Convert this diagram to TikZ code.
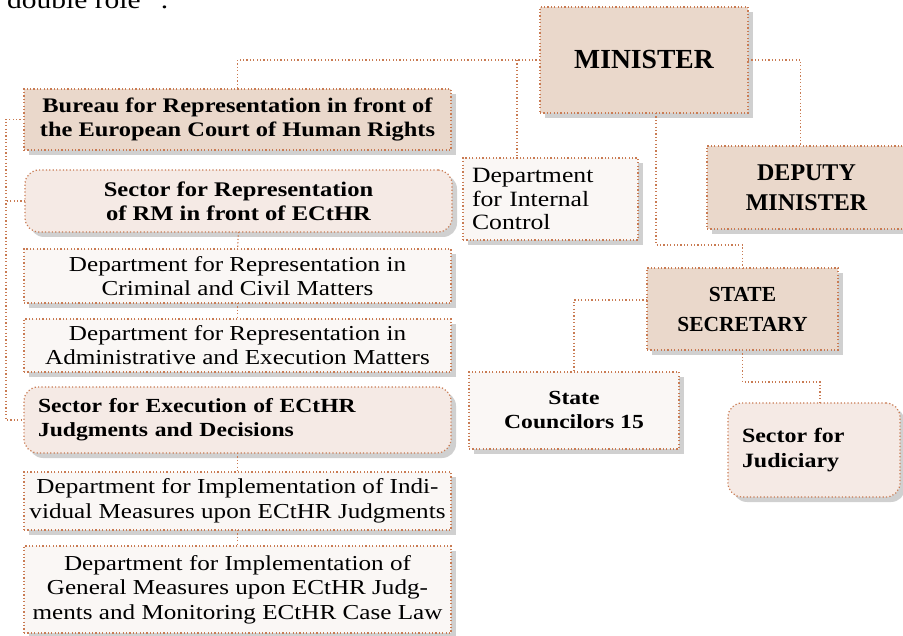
\documentclass[tikz,border=0pt]{standalone}
\usepackage{fontspec}
\setmainfont[FakeStretch=1.18]{Liberation Serif}
\newfontfamily\capsfont{Liberation Serif}
\usetikzlibrary{shadows}

\definecolor{linebrown}{HTML}{C97B53}
\definecolor{filldark}{HTML}{EAD8CB}
\definecolor{filllight}{HTML}{F5EAE5}
\definecolor{fillpale}{HTML}{FAF7F5}
\definecolor{shadowgray}{HTML}{D0D0D0}

\tikzset{
  orgbox/.style={draw=linebrown, line width=1.2pt, dash pattern=on 1.2pt off 2.2pt,
    rectangle, inner sep=0pt, outer sep=0pt, align=center,
    drop shadow={shadow xshift=5pt, shadow yshift=-5pt, fill=shadowgray, opacity=1}},
  darkbox/.style={orgbox, fill=filldark},
  palebox/.style={orgbox, fill=fillpale},
  roundbox/.style={orgbox, fill=filllight, rounded corners=14pt},
  conn/.style={draw=linebrown, line width=1.2pt, dash pattern=on 1.2pt off 2.2pt}
}

\begin{document}
\begin{tikzpicture}[x=1pt, y=-1pt]
\useasboundingbox (0,0) rectangle (903,636);

% text of the page above the chart
\node[anchor=base west, inner sep=0pt, font=\fontsize{25}{30}\selectfont] (pagetext) at (7,9) {double role”\hspace{7pt}.};

% top level
\node[darkbox, minimum width=208pt, minimum height=106pt,
  font=\capsfont\fontsize{27.6}{32}\selectfont\bfseries] (min) at (644,60) {MINISTER};
\node[darkbox, minimum width=199pt, minimum height=83pt,
  font=\capsfont\fontsize{24}{30}\selectfont\bfseries] (dep) at (806.5,187.5) {DEPUTY\\MINISTER};
\node[palebox, minimum width=175pt, minimum height=82pt, text width=157pt, align=left,
  inner xsep=9pt, font=\fontsize{21.8}{23.5}\selectfont] (dic) at (550.5,199) {Department\\for Internal\\Control};
\node[darkbox, minimum width=191pt, minimum height=82pt,
  font=\capsfont\fontsize{21.5}{30}\selectfont\bfseries] (sec) at (742.5,309) {STATE\\SECRETARY};
\node[palebox, minimum width=210pt, minimum height=77pt,
  font=\fontsize{20}{24}\selectfont\bfseries] (scn) at (574,410.5) {State\\Councilors 15};
\node[roundbox, minimum width=172pt, minimum height=94pt, text width=144pt, align=left,
  inner xsep=14pt, font=\fontsize{20.3}{25}\selectfont\bfseries] (jud) at (814,450) {Sector for\\Judiciary};

% left column
\node[darkbox, minimum width=427pt, minimum height=61pt,
  font=\fontsize{20.7}{24}\selectfont\bfseries] (bur) at (237.5,119.5)
  {Bureau for Representation in front of\\the European Court of Human Rights};
\node[roundbox, minimum width=427pt, minimum height=62pt,
  font=\fontsize{20.8}{24}\selectfont\bfseries] (rep) at (238.5,201)
  {Sector for Representation\\of RM in front of ECtHR};
\node[palebox, minimum width=427pt, minimum height=54pt,
  font=\fontsize{21.3}{24}\selectfont] (crim) at (237.5,276)
  {Department for Representation in\\Criminal and Civil Matters};
\node[palebox, minimum width=427pt, minimum height=53pt,
  font=\fontsize{21.3}{24}\selectfont] (adm) at (237.5,345.5)
  {Department for Representation in\\Administrative and Execution Matters};
\node[roundbox, minimum width=427pt, minimum height=66pt, text width=399pt, align=left,
  inner xsep=14pt, font=\fontsize{20}{24}\selectfont\bfseries] (exe) at (237.5,420)
  {Sector for Execution of ECtHR\\Judgments and Decisions};
\node[palebox, minimum width=427pt, minimum height=58pt,
  font=\fontsize{21.3}{24.5}\selectfont] (ind) at (237.5,501)
  {Department for Implementation of Indi-\\vidual Measures upon ECtHR Judgments};
\node[palebox, minimum width=427pt, minimum height=87pt,
  font=\fontsize{21.3}{24.5}\selectfont] (gen) at (237.5,589.5)
  {Department for Implementation of\\General Measures upon ECtHR Judg-\\ments and Monitoring ECtHR Case Law};

% connectors from the minister
\coordinate (jdic) at (517,60);
\draw[conn] (min.west) -| (bur.north);
\draw[conn] (jdic) -- (jdic |- dic.north);
\draw[conn] (min.east) -| ([xshift=-6pt]dep.north);
\draw[conn] ([xshift=12pt]min.south) |- ([yshift=23pt]sec.north) -- (sec.north);

% connectors from the state secretary
\draw[conn] ([yshift=9pt]sec.west) -| (scn.north);
\draw[conn] (sec.south) |- ([xshift=6pt,yshift=21pt]jud.north) -- ([xshift=6pt]jud.north);

% left column links
\draw[conn] (rep.south) -- (crim.north);
\draw[conn] (crim.south) -- (adm.north);
\draw[conn] (exe.south) -- (ind.north);
\draw[conn] (ind.south) -- (gen.north);

% bracket joining the bureau to its two sectors
\coordinate (brk) at (6,0);
\draw[conn] (bur.west) -- (brk |- bur.west) |- (exe.west);
\draw[conn] (rep.west) -- (brk |- rep.west);
\end{tikzpicture}
\end{document}
